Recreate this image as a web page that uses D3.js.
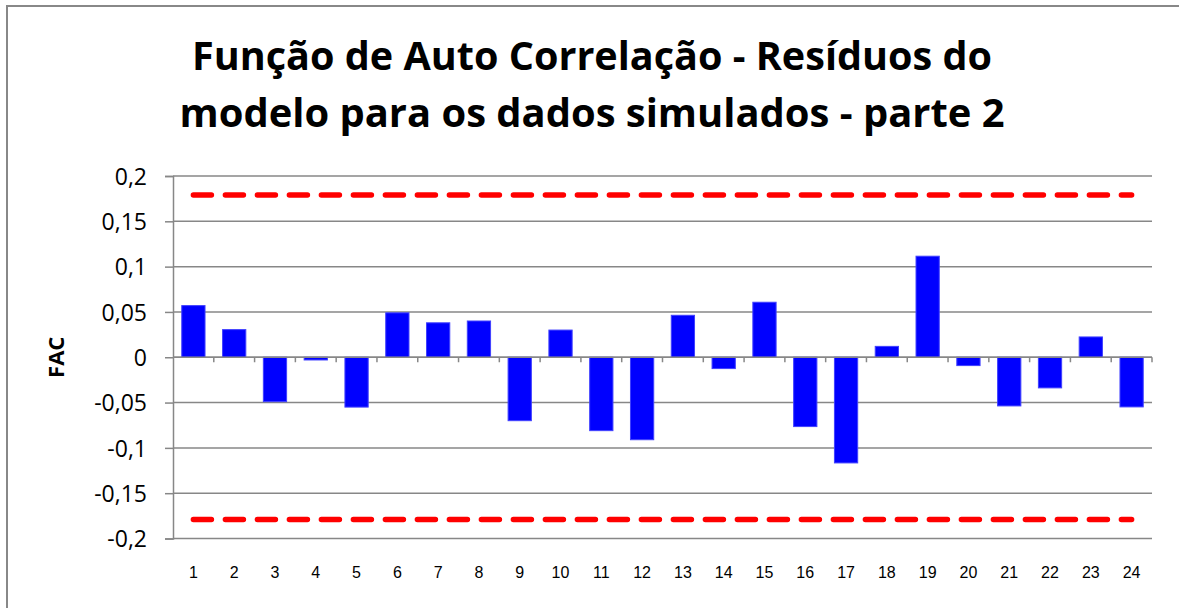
<!DOCTYPE html>
<html>
<head>
<meta charset="utf-8">
<script src="https://cdn.jsdelivr.net/npm/d3@7"></script>
<style>
  html, body { margin: 0; padding: 0; background: #fff; }
  svg { display: block; }
</style>
</head>
<body>
<svg id="chart" width="1179" height="608"></svg>
<script>
// lags and autocorrelation values
const lags = d3.range(1, 25);
const fac = [0.057, 0.0305, -0.049, -0.003, -0.055, 0.049, 0.038, 0.040,
             -0.070, 0.030, -0.081, -0.091, 0.0463, -0.0125, 0.0607, -0.0765,
             -0.1166, 0.012, 0.1115, -0.0092, -0.0537, -0.0338, 0.0224, -0.0548];
// confidence limits
const limits = [0.179, -0.179];
const yTicks = [0.2, 0.15, 0.1, 0.05, 0, -0.05, -0.1, -0.15, -0.2];
const titleLines = ["Função de Auto Correlação - Resíduos do",
                    "modelo para os dados simulados - parte 2"];

const svg = d3.select("#chart");
const plotL = 173, plotR = 1152, plotT = 176, plotB = 538.5;

// chart border
svg.append("rect")
  .attr("x", 7).attr("y", 6)
  .attr("width", 1190).attr("height", 640)
  .attr("fill", "none").attr("stroke", "#888").attr("stroke-width", 2);

// title
const tWidths = [800, 825];
svg.selectAll(".title").data(titleLines).enter().append("text")
  .attr("class", "title")
  .attr("x", 592)
  .attr("y", (d, i) => 70 + i * 57)
  .attr("text-anchor", "middle")
  .attr("font-family", "Open Sans")
  .attr("font-weight", "bold")
  .attr("font-size", 39)
  .attr("textLength", (d, i) => tWidths[i])
  .attr("lengthAdjust", "spacingAndGlyphs")
  .text(d => d);

const x = d3.scaleBand().domain(lags).range([plotL, plotR]).paddingInner(0.43).paddingOuter(0.215);
const xc = d3.scalePoint().domain(lags).range([plotL, plotR]).padding(0.5);
const y = d3.scaleLinear().domain([-0.2, 0.2]).range([plotB, plotT]);

// gridlines
svg.append("g").selectAll("line").data(yTicks).enter().append("line")
  .attr("x1", plotL).attr("x2", plotR)
  .attr("y1", d => y(d)).attr("y2", d => y(d))
  .attr("stroke", "#878787").attr("stroke-width", 1.5);

// y axis
const yAxis = svg.append("g")
  .attr("transform", `translate(${plotL},0)`)
  .call(d3.axisLeft(y).tickValues(yTicks).tickSize(8).tickPadding(18)
    .tickFormat(d => String(d).replace(".", ",")));
yAxis.select(".domain").attr("stroke", "#878787").attr("stroke-width", 1.5);
yAxis.selectAll(".tick line").attr("stroke", "#878787").attr("stroke-width", 1.5);
yAxis.selectAll("text")
  .attr("font-family", "Open Sans").attr("font-size", 23).attr("fill", "#000")
  .attr("dy", "0.36em");

// bars
svg.append("g").selectAll("rect").data(fac).enter().append("rect")
  .attr("x", (d, i) => x(lags[i]))
  .attr("width", x.bandwidth())
  .attr("y", d => y(Math.max(0, d)))
  .attr("height", d => Math.abs(y(d) - y(0)))
  .attr("fill", "#0000ff")
  .attr("stroke", "#4040ff").attr("stroke-width", 1);

// x axis at zero with ticks between categories
const bounds = d3.range(0, 25).map(i => plotL + i * (plotR - plotL) / 24);
svg.append("line")
  .attr("x1", plotL).attr("x2", plotR)
  .attr("y1", y(0)).attr("y2", y(0))
  .attr("stroke", "#878787").attr("stroke-width", 1.5);
svg.append("g").selectAll("line").data(bounds.slice(1)).enter().append("line")
  .attr("x1", d => d).attr("x2", d => d)
  .attr("y1", y(0)).attr("y2", y(0) + 5)
  .attr("stroke", "#878787").attr("stroke-width", 1.5);

// x labels
svg.append("g").selectAll("text").data(lags).enter().append("text")
  .attr("x", d => xc(d))
  .attr("y", 578)
  .attr("text-anchor", "middle")
  .attr("font-family", "Liberation Sans")
  .attr("font-size", 16)
  .attr("fill", "#000")
  .text(d => d);

// limit lines
const line = d3.line().x(d => xc(d[0])).y(d => y(d[1]));
limits.forEach(v => {
  svg.append("path")
    .datum(lags.map(l => [l, v]))
    .attr("d", line)
    .attr("fill", "none")
    .attr("stroke", "#ff0000")
    .attr("stroke-width", 5.5)
    .attr("stroke-linecap", "round")
    .attr("stroke-dasharray", "18,14");
});

// y axis title
svg.append("text")
  .attr("transform", `translate(64,${(plotT + plotB) / 2}) rotate(-90)`)
  .attr("text-anchor", "middle")
  .attr("font-family", "Open Sans")
  .attr("font-weight", "bold")
  .attr("font-size", 22)
  .text("FAC");
</script>
</body>
</html>
